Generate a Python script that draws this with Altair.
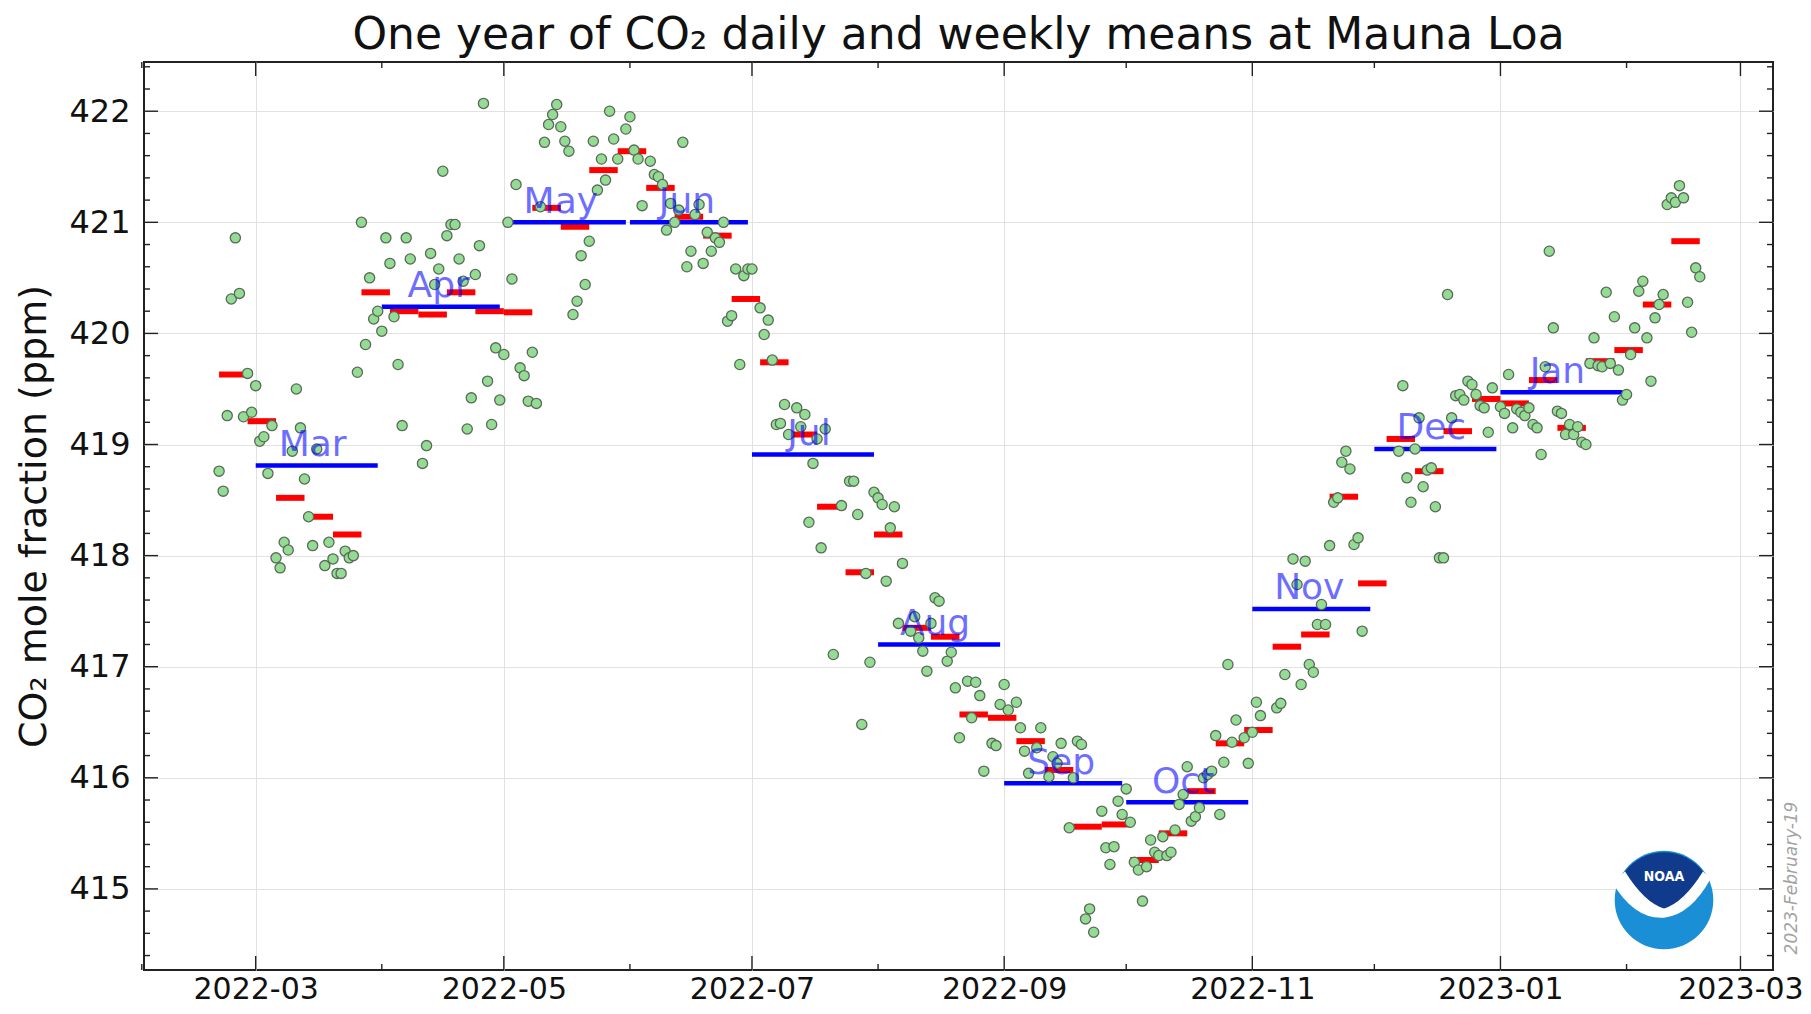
import altair as alt
import pandas as pd

# ---------------- daily means ----------------
feb22_days = [20, 21, 22, 23, 24, 25, 26, 27, 28]
feb22_ppm = [418.76, 418.58, 419.26, 420.31, 420.86, 420.36, 419.25, 419.64, 419.29]

mar22_days = [1, 2, 3, 4, 5, 6, 7, 8, 9, 10, 11, 12, 13, 14, 15, 16, 18, 19, 20, 21, 22, 23, 24, 25, 26, 27, 28, 29, 30, 31]
mar22_ppm = [419.53, 419.03, 419.07, 418.74, 419.17, 417.98, 417.89, 418.12, 418.05, 418.94, 419.50, 419.15, 418.69, 418.35,
             418.09, 418.96, 417.91, 418.12, 417.97, 417.84, 417.84, 418.04, 417.98, 418.00, 419.65, 421.00, 419.90, 420.50,
             420.13, 420.20]

apr22_days = [1, 2, 3, 4, 5, 6, 7, 8, 11, 12, 13, 14, 15, 16, 17, 18, 19, 20, 21, 22, 23, 24, 25, 26, 27, 28, 29, 30]
apr22_ppm = [420.02, 420.86, 420.63, 420.15, 419.72, 419.17, 420.86, 420.67, 418.83, 418.99, 420.72, 420.44, 420.58, 421.46,
             420.88, 420.98, 420.98, 420.67, 420.47, 419.14, 419.42, 420.53, 420.79, 422.07, 419.57, 419.18, 419.87, 419.40]

may22_days = [1, 2, 3, 4, 5, 6, 7, 8, 9, 10, 11, 12, 13, 14, 15, 16, 17, 18, 19, 20, 21, 22, 23, 24, 25, 26, 27, 28, 29, 31]
may22_ppm = [419.81, 421.00, 420.49, 421.34, 419.69, 419.62, 419.39, 419.83, 419.37, 421.14, 421.72, 421.88, 421.97, 422.06,
             421.86, 421.73, 421.64, 420.17, 420.29, 420.70, 420.44, 420.83, 421.73, 421.29, 421.57, 421.38, 422.00, 421.75,
             421.57, 421.84]

jun22_days = [1, 2, 3, 4, 6, 7, 8, 9, 10, 11, 12, 13, 14, 15, 16, 17, 18, 19, 20, 21, 22, 23, 24, 25, 26, 27, 28, 29, 30]
jun22_ppm = [421.95, 421.65, 421.57, 421.15, 421.55, 421.43, 421.41, 421.34, 420.93, 421.17, 421.00, 421.11, 421.72, 420.60,
             420.74, 421.07, 421.16, 420.63, 420.91, 420.74, 420.86, 420.82, 421.00, 420.11, 420.16, 420.58, 419.72, 420.52,
             420.58]

jul22_days = [1, 3, 4, 5, 6, 7, 8, 9, 10, 12, 13, 14, 15, 16, 17, 18, 19, 21, 23, 25, 26, 27, 28, 29, 30, 31]
jul22_ppm = [420.58, 420.23, 419.99, 420.12, 419.76, 419.18, 419.19, 419.36, 419.09, 419.33, 419.16, 419.27, 418.30, 418.83,
             419.05, 418.07, 419.14, 417.11, 418.45, 418.67, 418.67, 418.37, 416.48, 417.84, 417.04, 418.57]

aug22_days = [1, 2, 3, 4, 5, 6, 7, 9, 10, 11, 12, 13, 14, 15, 16, 18, 19, 20, 21, 23, 24, 25, 26, 27, 29, 30, 31]
aug22_ppm = [418.52, 418.46, 417.77, 418.25, 418.44, 417.39, 417.93, 417.32, 417.45, 417.26, 417.14, 416.96, 417.39, 417.62,
             417.59, 417.05, 417.13, 416.81, 416.36, 416.87, 416.54, 416.86, 416.74, 416.06, 416.31, 416.29, 416.66]

sep22_days = [1, 2, 4, 5, 6, 7, 9, 10, 12, 13, 14, 15, 17, 18, 19, 20, 21, 22, 23, 25, 26, 27, 28, 29, 30]
sep22_ppm = [416.84, 416.61, 416.68, 416.45, 416.24, 416.04, 416.27, 416.45, 416.01, 416.19, 416.13, 416.31, 415.55, 416.00,
             416.33, 416.30, 414.73, 414.82, 414.61, 415.70, 415.37, 415.22, 415.38, 415.79, 415.67]

oct22_days = [1, 2, 3, 4, 5, 6, 7, 8, 9, 10, 11, 12, 13, 14, 15, 16, 17, 18, 19, 20, 21, 22, 23, 24, 25, 26, 27, 28, 30, 31]
oct22_ppm = [415.90, 415.60, 415.24, 415.17, 414.89, 415.20, 415.44, 415.33, 415.30, 415.47, 415.30, 415.33, 415.53, 415.76,
             415.85, 416.10, 415.61, 415.65, 415.73, 416.00, 416.03, 416.06, 416.38, 415.67, 416.14, 417.02, 416.32, 416.52,
             416.36, 416.13]

nov22_days = [1, 2, 3, 7, 8, 9, 11, 12, 13, 14, 15, 16, 17, 18, 19, 20, 21, 22, 23, 24, 25, 26, 27, 28]
nov22_ppm = [416.41, 416.68, 416.56, 416.63, 416.67, 416.93, 417.97, 417.74, 416.84, 417.95, 417.02, 416.95, 417.38, 417.56,
             417.38, 418.09, 418.48, 418.52, 418.84, 418.94, 418.78, 418.10, 418.16, 417.32]

dec22_days = [7, 8, 9, 10, 11, 12, 13, 14, 15, 16, 17, 18, 19, 20, 21, 22, 23, 24, 25, 26, 27, 28, 29, 30]
dec22_ppm = [418.94, 419.53, 418.70, 418.48, 418.96, 419.24, 418.62, 418.77, 418.79, 418.44, 417.98, 417.98, 420.35, 419.24,
             419.44, 419.45, 419.40, 419.57, 419.54, 419.45, 419.35, 419.33, 419.11, 419.51]

jan23_days = list(range(1, 32))
jan23_ppm = [419.34, 419.28, 419.63, 419.15, 419.32, 419.29, 419.26, 419.33, 419.18, 419.15, 418.91, 419.70, 420.74, 420.05,
             419.30, 419.28, 419.09, 419.18, 419.09, 419.16, 419.02, 419.00, 419.73, 419.96, 419.71, 419.70, 420.37, 419.73,
             420.15, 419.67, 419.40]

feb23_days = list(range(1, 20))
feb23_ppm = [419.45, 419.81, 420.05, 420.38, 420.47, 419.96, 419.57, 420.14, 420.26, 420.35, 421.16, 421.22, 421.18, 421.33,
             421.22, 420.28, 420.01, 420.59, 420.51]

# ---------------- weekly means ----------------
week_starts = ["2022-02-20", "2022-02-27", "2022-03-06", "2022-03-13", "2022-03-20", "2022-03-27", "2022-04-03",
               "2022-04-10", "2022-04-17", "2022-04-24", "2022-05-01", "2022-05-08", "2022-05-15", "2022-05-22",
               "2022-05-29", "2022-06-05", "2022-06-12", "2022-06-19", "2022-06-26", "2022-07-03", "2022-07-10",
               "2022-07-17", "2022-07-24", "2022-07-31", "2022-08-07", "2022-08-14", "2022-08-21", "2022-08-28",
               "2022-09-04", "2022-09-11", "2022-09-18", "2022-09-25", "2022-10-02", "2022-10-09", "2022-10-16",
               "2022-10-23", "2022-10-30", "2022-11-06", "2022-11-13", "2022-11-20", "2022-11-27", "2022-12-04",
               "2022-12-11", "2022-12-18", "2022-12-25", "2023-01-01", "2023-01-08", "2023-01-15", "2023-01-22",
               "2023-01-29", "2023-02-05", "2023-02-12"]
week_ppm = [419.63, 419.21, 418.52, 418.35, 418.19, 420.37, 420.20, 420.17, 420.37, 420.20, 420.19, 421.13, 420.96, 421.47,
            421.64, 421.31, 421.05, 420.88, 420.31, 419.74, 419.09, 418.44, 417.85, 418.19, 417.35, 417.27, 416.57, 416.54,
            416.33, 416.07, 415.56, 415.58, 415.26, 415.50, 415.88, 416.31, 416.43, 417.18, 417.29, 418.53, 417.75, 419.05,
            418.76, 419.12, 419.41, 419.37, 419.58, 419.15, 419.75, 419.85, 420.26, 420.83]

# ---------------- monthly means ----------------
month_starts = ["2022-03-01", "2022-04-01", "2022-05-01", "2022-06-01", "2022-07-01", "2022-08-01", "2022-09-01",
                "2022-10-01", "2022-11-01", "2022-12-01", "2023-01-01"]
month_labels = ["Mar", "Apr", "May", "Jun", "Jul", "Aug", "Sep", "Oct", "Nov", "Dec", "Jan"]
month_ppm = [418.81, 420.24, 421.00, 421.00, 418.91, 417.20, 415.95, 415.78, 417.52, 418.96, 419.47]

# ---------------- axis ticks / texts ----------------
y_major_ticks = [415, 416, 417, 418, 419, 420, 421, 422]
y_minor_ticks = [v for v in [round(414.4 + 0.2 * i, 1) for i in range(41)] if abs(v - round(v)) > 1e-6]
x_major_ticks = ["2022-03-01", "2022-05-01", "2022-07-01", "2022-09-01", "2022-11-01", "2023-01-01", "2023-03-01"]
x_minor_ticks = ["2022-02-01", "2022-04-01", "2022-06-01", "2022-08-01", "2022-10-01", "2022-12-01", "2023-02-01"]

title_text = "One year of CO\u2082 daily and weekly means at Mauna Loa"
y_title = "CO\u2082 mole fraction (ppm)"
stamp_text = "2023-February-19"

# ---------------- build tables ----------------
month_blocks = [(2022, 2, feb22_days, feb22_ppm), (2022, 3, mar22_days, mar22_ppm), (2022, 4, apr22_days, apr22_ppm),
                (2022, 5, may22_days, may22_ppm), (2022, 6, jun22_days, jun22_ppm), (2022, 7, jul22_days, jul22_ppm),
                (2022, 8, aug22_days, aug22_ppm), (2022, 9, sep22_days, sep22_ppm), (2022, 10, oct22_days, oct22_ppm),
                (2022, 11, nov22_days, nov22_ppm), (2022, 12, dec22_days, dec22_ppm), (2023, 1, jan23_days, jan23_ppm),
                (2023, 2, feb23_days, feb23_ppm)]
d_dates, d_vals = [], []
for yy, mm, ds, vs in month_blocks:
    for d, v in zip(ds, vs):
        d_dates.append(f"{yy}-{mm:02d}-{d:02d}")
        d_vals.append(v)
daily = pd.DataFrame({"date": d_dates, "ppm": d_vals})

ws = pd.to_datetime(week_starts)
weekly = pd.DataFrame({"start": week_starts,
                       "end": (ws + pd.Timedelta(days=7)).strftime("%Y-%m-%d"),
                       "ppm": week_ppm})
ms = pd.to_datetime(month_starts)
monthly = pd.DataFrame({"start": month_starts,
                        "end": (ms + pd.offsets.MonthEnd(0)).strftime("%Y-%m-%d"),
                        "mid": (ms + pd.Timedelta(days=14)).strftime("%Y-%m-%d"),
                        "ppm": month_ppm, "label": month_labels})

W, H = 1629, 908
FONT = "DejaVu Sans"
GRID = "#e2e2e2"
TICK = "#222222"

xscale = alt.Scale(type="utc", nice=False,
                   domain=[alt.DateTime(year=2022, month=2, date=1, hours=13, utc=True),
                           alt.DateTime(year=2023, month=3, date=9, hours=0, utc=True)])
yscale = alt.Scale(domain=[414.270, 422.443], nice=False, zero=False)

xaxis = alt.Axis(values=[alt.DateTime(year=int(s[:4]), month=int(s[5:7]), date=1, utc=True) for s in x_major_ticks],
                 format="%Y-%m", title=None, ticks=False, domain=False, grid=True, gridColor=GRID, gridWidth=1,
                 labelFontSize=30, labelFont=FONT, labelColor="#111111", labelPadding=4,
                 labelFlush=False, labelOverlap=False, labelBound=False)
yaxis = alt.Axis(values=y_major_ticks, format="d", title=y_title, titleFontSize=38, titleFont=FONT,
                 titleFontWeight="normal", titleColor="#111111", titleX=-110, titleY=H / 2, titleBaseline="middle",
                 titleAngle=270, ticks=False, domain=False, grid=True, gridColor=GRID, gridWidth=1,
                 labelFontSize=32, labelFont=FONT, labelColor="#111111", labelPadding=14, labelOverlap=False)

weekly_layer = alt.Chart(weekly).mark_rule(color="#ff0000", strokeWidth=6, strokeCap="butt").encode(
    x=alt.X("start:T", scale=xscale, axis=xaxis), x2="end:T",
    y=alt.Y("ppm:Q", scale=yscale, axis=yaxis))

monthly_layer = alt.Chart(monthly).mark_rule(color="#0000ff", strokeWidth=4.5, strokeCap="butt").encode(
    x=alt.X("start:T", scale=xscale), x2="end:T",
    y=alt.Y("ppm:Q", scale=yscale))

points_layer = alt.Chart(daily).mark_circle(size=104, fill="#94dc94", stroke="#5a6a5a", strokeWidth=1.3,
                                            opacity=1).encode(
    x=alt.X("date:T", scale=xscale),
    y=alt.Y("ppm:Q", scale=yscale))

labels_layer = alt.Chart(monthly).mark_text(fontSize=36, font=FONT, color="#0000ff", opacity=0.57,
                                            baseline="bottom", align="center", dy=-1.5).encode(
    x=alt.X("mid:T", scale=xscale),
    y=alt.Y("ppm:Q", scale=yscale),
    text="label:N")


def y_ticks(vals, length, side):
    df = pd.DataFrame({"ppm": vals})
    x0, x1 = (0, length) if side == "left" else (W, W - length)
    return alt.Chart(df).mark_rule(color=TICK, strokeWidth=1.4).encode(
        y=alt.Y("ppm:Q", scale=yscale), x=alt.value(x0), x2=alt.value(x1))


def x_ticks(vals, length, side):
    df = pd.DataFrame({"date": vals})
    y0, y1 = (H, H - length) if side == "bottom" else (0, length)
    return alt.Chart(df).mark_rule(color=TICK, strokeWidth=1.4).encode(
        x=alt.X("date:T", scale=xscale), y=alt.value(y0), y2=alt.value(y1))


tick_layers = [
    y_ticks(y_major_ticks, 14, "left"), y_ticks(y_major_ticks, 14, "right"),
    y_ticks(y_minor_ticks, 6, "left"), y_ticks(y_minor_ticks, 6, "right"),
    x_ticks(x_major_ticks, 14, "bottom"), x_ticks(x_major_ticks, 14, "top"),
    x_ticks(x_minor_ticks, 6, "bottom"), x_ticks(x_minor_ticks, 6, "top"),
]

# ---------------- NOAA logo (decoration) ----------------
one = pd.DataFrame({"a": [0]})
LOGO_X, LOGO_Y, LOGO_SIZE = 1520, 838, 9720
disk_path = "M1,0A1,1,0,1,1,-1,0A1,1,0,1,1,1,0Z"
gull_path = "M-1.05,-0.36Q-0.6,0.4,0,0.36Q0.55,0.3,0.95,-0.44L0.79,-0.58L-0.79,-0.58Z"
navy_path = "M-0.79,-0.58A1,1,0,0,1,0.79,-0.58Q0.4,0.05,0,0.17Q-0.4,0.05,-0.79,-0.58Z"


def logo_part(path, color):
    return alt.Chart(one).mark_point(shape=path, size=LOGO_SIZE, filled=True, fill=color, strokeWidth=0,
                                     opacity=1).encode(x=alt.value(LOGO_X), y=alt.value(LOGO_Y))


logo_layers = [logo_part(disk_path, "#1a8fd6"), logo_part(gull_path, "#ffffff"), logo_part(navy_path, "#103a8c")]
noaa_text = alt.Chart(one).mark_text(text="NOAA", font="DejaVu Sans Condensed", fontWeight="bold", fontSize=14,
                                     color="#ffffff", align="center", baseline="middle").encode(
    x=alt.value(LOGO_X), y=alt.value(LOGO_Y - 23))

stamp_layer = alt.Chart(one).mark_text(text=stamp_text, font=FONT, fontStyle="italic", fontSize=17, angle=270,
                                       color="#a3a3a3", align="center", baseline="middle").encode(
    x=alt.value(W + 19), y=alt.value(816))

chart = alt.layer(
    weekly_layer, monthly_layer, points_layer, labels_layer, *tick_layers, *logo_layers, noaa_text, stamp_layer
).properties(
    width=W, height=H,
    title=alt.TitleParams(text=title_text, fontSize=44, font=FONT, fontWeight="normal", color="#111111",
                          offset=3, anchor="middle", frame="group"),
    padding={"left": 136, "top": 54, "right": 30, "bottom": 36},
    autosize=alt.AutoSizeParams(type="none"),
).configure(font=FONT).configure_view(stroke="#222222", strokeWidth=2)

chart.save("out.html", embed_options={"renderer": "svg", "actions": False})
